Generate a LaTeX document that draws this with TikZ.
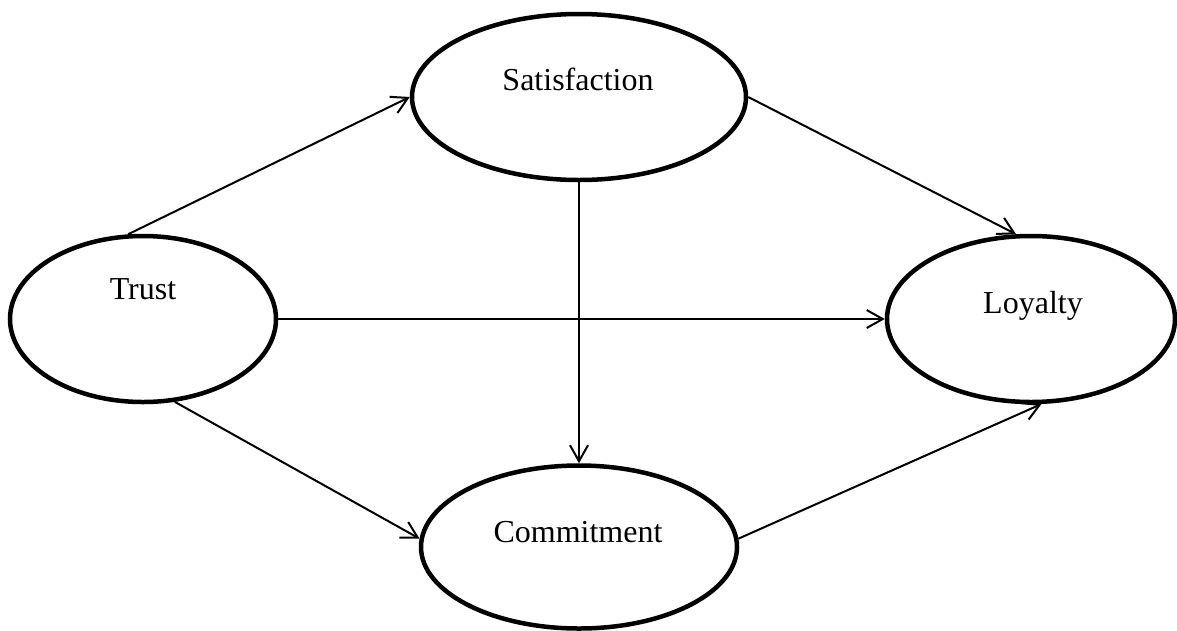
\documentclass[tikz,border=0pt]{standalone}
\usepackage{fontspec}
\setmainfont{Liberation Serif}
\usetikzlibrary{shapes.geometric,arrows.meta}
\begin{document}
\begin{tikzpicture}[x=1pt,y=-1pt,
  construct/.style={draw,ellipse,line width=4.5pt,inner sep=0pt},
  lbl/.style={anchor=base,font=\fontsize{32}{38}\selectfont,inner sep=0pt},
  link/.style={line width=2pt,-{Straight Barb[length=16pt,width=18pt,line width=2pt]}}]
\useasboundingbox[fill=white] (0,0) rectangle (1177,630);
\node[construct,minimum width=334pt,minimum height=166pt] (sat) at (579,97) {};
\node[construct,minimum width=266pt,minimum height=166pt] (trust) at (143,319) {};
\node[construct,minimum width=288pt,minimum height=166pt] (loy) at (1031,319) {};
\node[construct,minimum width=316pt,minimum height=163pt] (com) at (579,547) {};
\node[lbl] (satl) at (578,90) {Satisfaction};
\node[lbl] (trustl) at (143,299) {Trust};
\node[lbl] (loyl) at (1033,313) {Loyalty};
\node[lbl] (coml) at (578,542) {Commitment};
\draw[link] (trust.100) -- (sat.west);
\draw[link] (sat.east) -- (loy.100);
\draw[link] (trust.east) -- (loy.west);
\draw[link] (sat.south) -- (com.north);
\draw[link] (trust.-69) -- (com.177);
\draw[link] (com.3) -- (loy.-83);
\end{tikzpicture}
\end{document}
